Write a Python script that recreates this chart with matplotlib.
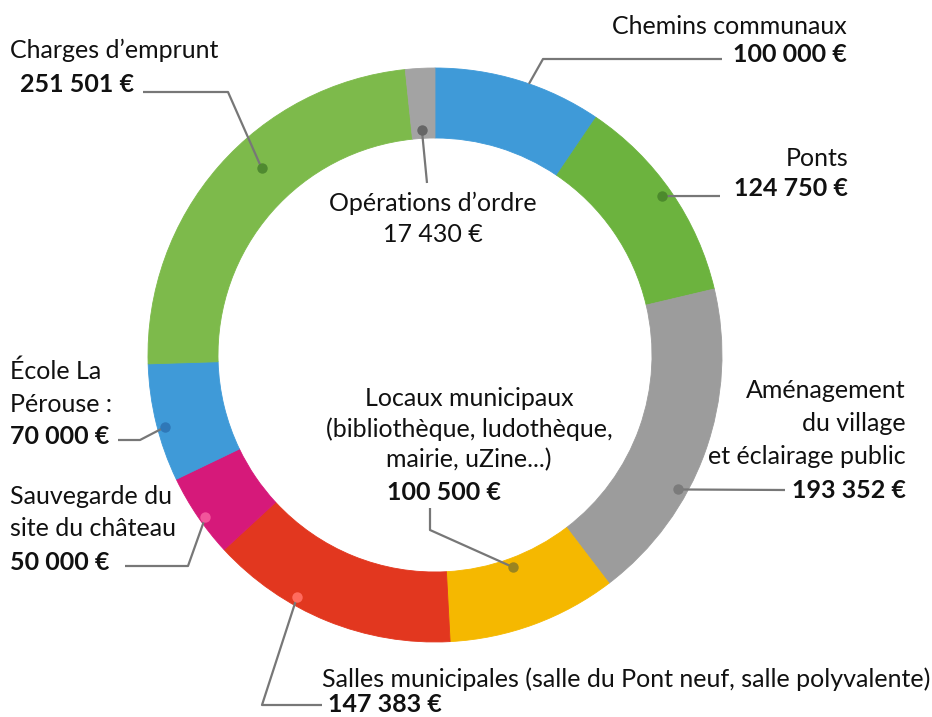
import matplotlib
matplotlib.use("Agg")
import matplotlib.pyplot as plt
import numpy as np

# ---------------- data ----------------
categories = ["Chemins communaux", "Ponts", "Aménagement du village et éclairage public",
              "Locaux municipaux", "Salles municipales", "Sauvegarde du site du château",
              "École La Pérouse", "Charges d'emprunt", "Opérations d'ordre"]
values = [100000, 124750, 193352, 100500, 147383, 50000, 70000, 251501, 17430]
value_labels = ["100 000 €", "124 750 €", "193 352 €", "100 500 €", "147 383 €",
                "50 000 €", "70 000 €", "251 501 €", "17 430 €"]
name_lines = [
    ["Chemins communaux"],
    ["Ponts"],
    ["Aménagement", "du village", "et éclairage public"],
    ["Locaux municipaux", "(bibliothèque, ludothèque,", "mairie, uZine...)"],
    ["Salles municipales (salle du Pont neuf, salle polyvalente)"],
    ["Sauvegarde du", "site du château"],
    ["École La", "Pérouse :"],
    ["Charges d\u2019emprunt"],
    ["Opérations d\u2019ordre"],
]
colors = ["#3f9ad8", "#6cb33e", "#9c9c9c", "#f5b800", "#e2371f",
          "#d6197a", "#3f9ad8", "#7dba4b", "#a3a3a3"]
dot_colors = [None, "#4c8a2c", "#7b7b7b", "#9a8420", "#ff6b5e",
              "#f2559b", "#2f78b8", "#4f8a30", "#666666"]

plt.rcParams['font.family'] = ['Lato', 'DejaVu Sans']

fig = plt.figure(figsize=(9.32, 7.17), dpi=100)
ax = fig.add_axes([0, 0, 1, 1])

CX, CY, R, W = 435, 355, 287, 70
wedges, _ = ax.pie(values, colors=colors, startangle=-90, counterclock=True,
                   center=(CX, CY), radius=R, frame=True,
                   wedgeprops=dict(width=W, linewidth=0.6, edgecolor=None))
for w, c in zip(wedges, colors):
    w.set_edgecolor(c)

ax.set_xlim(0, 932)
ax.set_ylim(717, 0)
ax.set_aspect('equal')
ax.axis('off')

# anchor: (fraction along wedge, radius)
anchors = [(0.56, 287), (0.49, 277), (0.64, 278), (0.50, 226), (0.65, 279),
           (0.44, 281), (0.45, 279), (0.57, 255), (0.44, 225)]

def anchor_pt(i):
    w = wedges[i]
    frac, r = anchors[i]
    th = np.deg2rad(w.theta1 + frac * (w.theta2 - w.theta1))
    return CX + r * np.cos(th), CY + r * np.sin(th)

# leader line paths (after the anchor point)
paths = [
    [(543, 59), (722, 59)],
    [(720, 196)],
    [(785, 490)],
    [(430, 530), (430, 508)],
    [(262, 705), (322, 705)],
    [(188, 566), (125, 566)],
    [(140, 440), (118, 440)],
    [(228, 92), (143, 92)],
    [(427, 183)],
]

LINE_COL = "#777777"
for i in range(len(values)):
    ax_, ay_ = anchor_pt(i)
    xs = [ax_] + [p[0] for p in paths[i]]
    ys = [ay_] + [p[1] for p in paths[i]]
    ax.plot(xs, ys, color=LINE_COL, lw=1.6, solid_capstyle='butt', zorder=3)
    if dot_colors[i] is not None:
        ax.plot([ax_], [ay_], 'o', ms=7.5, color=dot_colors[i], mec='none', zorder=4)

FS = 18
TXT = "#111111"

def put(x, y, s, ha, bold=False):
    ax.text(x, y, s, ha=ha, va='center', fontsize=FS, color=TXT,
            fontweight='bold' if bold else 'normal', zorder=5)

# Chemins communaux
put(847, 26, name_lines[0][0], 'right')
put(847, 55, value_labels[0], 'right', True)
# Ponts
put(848, 158, name_lines[1][0], 'right')
put(848, 189, value_labels[1], 'right', True)
# Aménagement
for k, s in enumerate(name_lines[2]):
    put(906, 391 + 32.5 * k, s, 'right')
put(906, 490, value_labels[2], 'right', True)
# Locaux
for k, s in enumerate(name_lines[3]):
    put(469, 398 + 31 * k, s, 'center')
put(444, 492, value_labels[3], 'center', True)
# Salles
put(322, 679, name_lines[4][0], 'left')
put(328, 705, value_labels[4], 'left', True)
# Sauvegarde
for k, s in enumerate(name_lines[5]):
    put(10, 496 + 33 * k, s, 'left')
put(10, 563, value_labels[5], 'left', True)
# Ecole
for k, s in enumerate(name_lines[6]):
    put(10, 371 + 33 * k, s, 'left')
put(10, 437, value_labels[6], 'left', True)
# Charges
put(10, 50, name_lines[7][0], 'left')
put(20, 85, value_labels[7], 'left', True)
# Operations
put(433, 203, name_lines[8][0], 'center')
put(433, 235, value_labels[8], 'center')

fig.savefig("out.png", dpi=100, facecolor="white")
